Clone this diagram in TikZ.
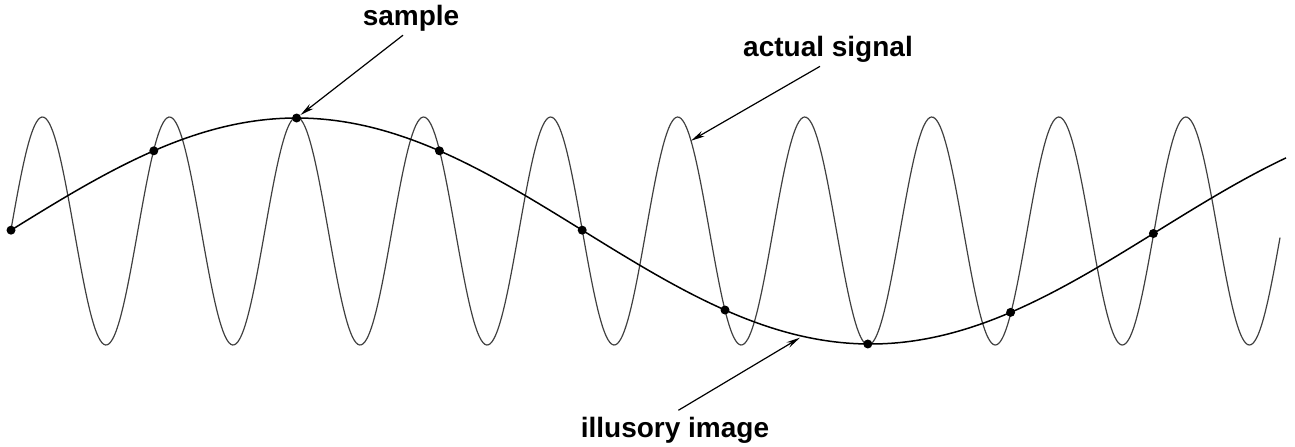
\documentclass[tikz,border=0pt]{standalone}
\usepackage{fontspec}
\setmainfont{Liberation Sans}
\usetikzlibrary{arrows.meta,positioning,calc}

\begin{document}
\begin{tikzpicture}[
    x=0.5pt, y=-0.5pt,
    txt/.style={font=\fontsize{14}{16}\selectfont\bfseries, anchor=base, inner sep=2pt},
    fast/.style={black!75, line width=0.6pt},
    slow/.style={black, line width=0.75pt},
    dot/.style={circle, fill=black, inner sep=0pt, minimum size=4.5pt},
    arrow/.style={-{Stealth[length=7pt,width=3pt]}, line width=0.6pt}
]
    \useasboundingbox (0,0) rectangle (1295,446);

    % Actual signal
    \draw[fast] plot[domain=11:1280, samples=700, smooth] (\x, {231-114*cos(2.8337*(\x-42.5))});

    % Illusory image
    \draw[slow] plot[domain=11:1286, samples=200, smooth] (\x, {231-113*cos(0.31364*(\x-296.6))});

    % Samples
    \foreach \n in {0,...,8} {
        \pgfmathsetmacro{\sx}{296.6+142.8*(\n-2)}
        \pgfmathsetmacro{\sy}{231-113*cos(0.31364*(\sx-296.6))}
        \node[dot] (s\n) at (\sx,\sy) {};
    }

    % Points on the curves
    \coordinate (sigpt) at (691,{231-114*cos(2.8337*(691-42.5))});
    \coordinate (illpt) at (800,{233-113*cos(0.31364*(800-296.6))});

    % Labels
    \node[txt] (smp) at (411,25) {sample};
    \node[txt] (sig) at (828,56) {actual signal};
    \node[txt] (ill) at (675,437) {illusory image};

    % Arrows
    \draw[arrow] ([xshift=-4pt]smp.south) -- (s2);
    \draw[arrow] ([xshift=-4pt]sig.south) -- (sigpt);
    \draw[arrow, shorten <=2pt] (ill.north) -- (illpt);
\end{tikzpicture}
\end{document}
